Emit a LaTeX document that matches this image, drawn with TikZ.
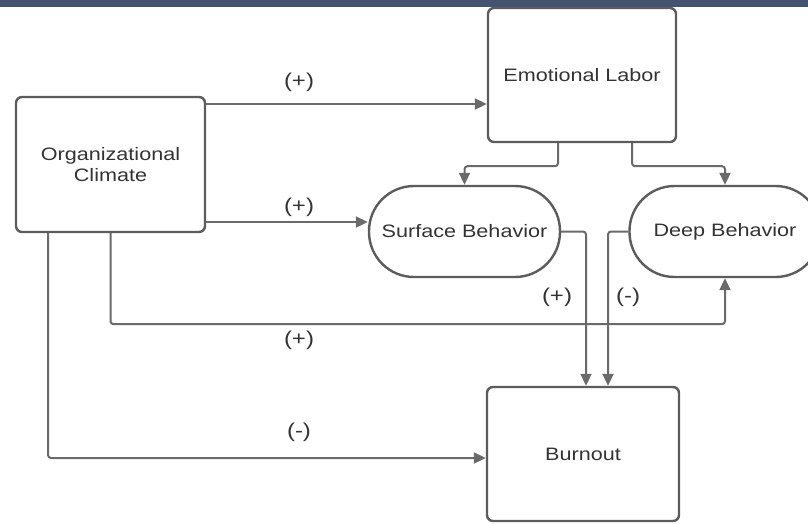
\documentclass[tikz,border=0pt]{standalone}
\usepackage{fontspec}
\setmainfont{Liberation Sans}[FakeStretch=1.2]
\usetikzlibrary{arrows.meta,calc}
\definecolor{barc}{HTML}{44546F}
\definecolor{linec}{HTML}{6A6A6A}
\definecolor{boxc}{HTML}{5C5C5C}
\definecolor{txtc}{HTML}{333333}
\tikzset{
  boxnode/.style={draw=boxc, line width=2.4pt, rounded corners=6pt, fill=white,
    minimum width=#1, inner sep=0pt, text=txtc, align=center,
    font=\fontsize{18}{21}\selectfont},
  pillnode/.style={draw=boxc, line width=2.4pt, rounded corners=45pt, fill=white,
    minimum width=191pt, minimum height=91pt, inner sep=0pt, text=txtc,
    font=\fontsize{18}{21}\selectfont},
  arr/.style={draw=linec, line width=2pt, rounded corners=3pt,
    -{Triangle[length=12pt,width=11pt]}},
  lbl/.style={text=txtc, font=\fontsize{20}{22}\selectfont, inner sep=0pt}
}
\begin{document}
\begin{tikzpicture}[x=1pt,y=-1pt]
\useasboundingbox (0,0) rectangle (808,523);
\fill[barc] (0,0) rectangle (808,6.5);
% nodes
\node[boxnode=188pt, minimum height=134pt] (EL) at (582,75) {Emotional Labor};
\node[boxnode=189pt, minimum height=135pt] (OC) at (110.5,164.5) {Organizational\\Climate};
\node[pillnode] (SB) at (464.5,231.5) {Surface Behavior};
\node[pillnode] (DB) at (725,231.5) {Deep Behavior};
\node[boxnode=192pt, minimum height=134pt] (BO) at (583,454) {Burnout};
% connectors
\coordinate (ya) at (0,104);
\coordinate (yb) at (0,222);
\draw[arr] (OC.east |- ya) -- (EL.west |- ya);
\draw[arr] (OC.east |- yb) -- (SB.west |- yb);
\draw[arr] ($(EL.south)+(-24,0)$) -- ++(0,23) -| (SB.north);
\draw[arr] ($(EL.south)+(50,0)$) -- ++(0,23) -| (DB.north);
\draw[arr] (OC.south) -- ++(0,91) -| (DB.south);
\draw[arr] ($(OC.south)+(-62.5,0)$) |- ($(BO.west)+(0,4)$);
\draw[arr] (SB.east) -| ($(BO.north)+(3,0)$);
\draw[arr] (DB.west) -| ($(BO.north)+(25,0)$);
% labels
\node[lbl] (l1) at (299,82) {(+)};
\node[lbl] (l2) at (299,207) {(+)};
\node[lbl] (l3) at (299,340) {(+)};
\node[lbl] (l4) at (299,432) {(-)};
\node[lbl] (l5) at (557,297) {(+)};
\node[lbl] (l6) at (628,297) {(-)};
\end{tikzpicture}
\end{document}
